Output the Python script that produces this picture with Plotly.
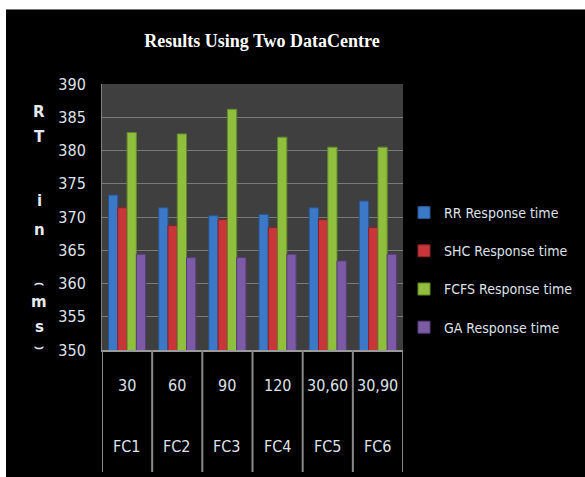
import plotly.graph_objects as go

# ---- data ----
configs = ["FC1", "FC2", "FC3", "FC4", "FC5", "FC6"]
durations = ["30", "60", "90", "120", "30,60", "30,90"]
series_names = ["RR Response time", "SHC Response time", "FCFS Response time", "GA Response time"]
rr = [373.3, 371.4, 370.2, 370.4, 371.4, 372.4]
shc = [371.4, 368.7, 369.6, 368.4, 369.6, 368.4]
fcfs = [382.7, 382.5, 386.2, 382.0, 380.5, 380.5]
ga = [364.4, 363.9, 363.9, 364.4, 363.4, 364.4]
y_ticks = [350, 355, 360, 365, 370, 375, 380, 385, 390]
y_title_chars = ["R", "T", "i", "n", "⌢", "m", "s", "⌣"]

# ---- layout geometry ----
W, H = 585, 477
ML, MR, MT, MB = 102, 182, 84, 127
PW = W - ML - MR
PH = H - MT - MB


def px(p):
    return (p - ML) / PW


def py(p):
    return (H - MB - p) / PH


fill = ["#3b78c8", "#c8363a", "#8fbf3c", "#7d5aa6"]
edge = ["#28558f", "#8a2226", "#62882a", "#563c7a"]
values = [rr, shc, fcfs, ga]

fig = go.Figure()
for i, (name, vals) in enumerate(zip(series_names, values)):
    fig.add_trace(go.Bar(
        x=configs, y=vals, name=name,
        marker=dict(color=fill[i], line=dict(color=edge[i], width=1)),
        legendgroup=f"g{i}",
    ))

narrow = "Liberation Sans Narrow, DejaVu Sans Condensed, sans-serif"
tick_font = dict(family=narrow, size=16, color="#dde2e8")

annotations = []
# category table labels
for c, d in zip(configs, durations):
    annotations.append(dict(x=c, y=py(385), xref="x", yref="paper", text=d, showarrow=False,
                            font=tick_font, xanchor="center", yanchor="middle"))
    annotations.append(dict(x=c, y=py(446), xref="x", yref="paper", text=c, showarrow=False,
                            font=tick_font, xanchor="center", yanchor="middle"))

# stacked y-axis title
title_y_px = [112, 137, 201, 230, 283, 302, 327, 346]
for ch, yp in zip(y_title_chars, title_y_px):
    annotations.append(dict(x=px(39), y=py(yp), xref="paper", yref="paper", text=f"<b>{ch}</b>",
                            showarrow=False,
                            font=dict(family="DejaVu Sans, sans-serif", size=15, color="#e6eaef"),
                            xanchor="center", yanchor="middle"))

shapes = []
# table dividers
for k in range(len(configs) + 1):
    shapes.append(dict(type="line", xref="x", yref="paper", x0=k - 0.5, x1=k - 0.5,
                       y0=0, y1=py(472), line=dict(color="#8a8a8a", width=2)))
# white frame strips at top and left of the picture
shapes.append(dict(type="rect", xref="paper", yref="paper", x0=px(0), x1=px(W), y0=py(9), y1=py(0),
                   fillcolor="white", line=dict(width=0), layer="above"))
shapes.append(dict(type="line", xref="paper", yref="paper", x0=px(0), x1=px(W), y0=py(9.5), y1=py(9.5),
                   line=dict(color="#777777", width=1), layer="above"))
shapes.append(dict(type="rect", xref="paper", yref="paper", x0=px(0), x1=px(6), y0=py(H), y1=py(0),
                   fillcolor="white", line=dict(width=0), layer="above"))

fig.update_layout(
    width=W, height=H, autosize=False,
    margin=dict(l=ML, r=MR, t=MT, b=MB, pad=0, autoexpand=False),
    paper_bgcolor="black",
    plot_bgcolor="#3f3f3f",
    barmode="group", bargap=0.26, bargroupgap=0.0,
    title=dict(text="<b>Results Using Two DataCentre</b>", x=262 / W, xref="container", xanchor="center",
               y=1 - 41 / H, yref="container", yanchor="middle",
               font=dict(family="Liberation Serif, serif", size=18, color="white")),
    xaxis=dict(showticklabels=False, ticks="", showgrid=False, showline=True, linecolor="#9a9a9a",
               linewidth=2, zeroline=False, range=[-0.5, 5.5]),
    yaxis=dict(range=[350, 390], tickvals=y_ticks, ticks="outside", ticklen=12,
               tickcolor="rgba(0,0,0,0)",
               showgrid=True, gridcolor="#7a7a7a", gridwidth=1, zeroline=False,
               showline=True, linecolor="#828282", linewidth=1, tickfont=tick_font),
    legend=dict(x=px(404), y=py(197), xanchor="left", yanchor="top", tracegroupgap=17,
                font=dict(family=narrow, size=14, color="#dde2e8"),
                bgcolor="rgba(0,0,0,0)", itemwidth=30),
    showlegend=True,
    annotations=annotations,
    shapes=shapes,
)

fig.write_html(
    "out.html",
    include_plotlyjs=True,
    config={"displayModeBar": False},
    post_script="document.body.style.margin='0px'; document.body.style.overflow='hidden';",
)
